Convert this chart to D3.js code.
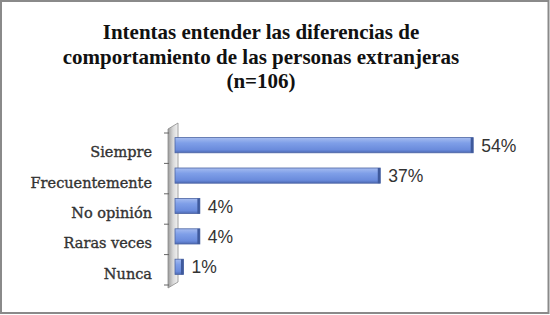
<!DOCTYPE html>
<html>
<head>
<meta charset="utf-8">
<script src="https://cdn.jsdelivr.net/npm/d3@7"></script>
<style>
  html, body { margin: 0; padding: 0; background: #fff; }
  svg { display: block; }
</style>
</head>
<body>
<div id="chart"></div>
<script>
// Data
const categories = ["Siempre", "Frecuentemente", "No opinión", "Raras veces", "Nunca"];
const values = [54, 37, 4, 4, 1];
const titleLines = [
  "Intentas entender las diferencias de",
  "comportamiento de las personas extranjeras",
  "(n=106)"
];

function draw() {
  const dimensions = { width: 550, height: 315 };

  const svg = d3
    .select("#chart")
    .append("svg")
    .attr("width", dimensions.width)
    .attr("height", dimensions.height);

  const defs = svg.append("defs");

  // bar gradient (light top, darker bottom)
  const barGrad = defs
    .append("linearGradient")
    .attr("id", "barGrad")
    .attr("x1", 0).attr("y1", 0).attr("x2", 0).attr("y2", 1);
  barGrad.append("stop").attr("offset", "0%").attr("stop-color", "#a6bcf0");
  barGrad.append("stop").attr("offset", "35%").attr("stop-color", "#7f9fe8");
  barGrad.append("stop").attr("offset", "80%").attr("stop-color", "#6a8bdc");
  barGrad.append("stop").attr("offset", "100%").attr("stop-color", "#4d6ab3");

  // wall gradient
  const wallGrad = defs
    .append("linearGradient")
    .attr("id", "wallGrad")
    .attr("x1", 0).attr("y1", 0).attr("x2", 1).attr("y2", 0);
  wallGrad.append("stop").attr("offset", "0%").attr("stop-color", "#9a9a9a");
  wallGrad.append("stop").attr("offset", "50%").attr("stop-color", "#d8d8d8");
  wallGrad.append("stop").attr("offset", "100%").attr("stop-color", "#f2f2f2");

  // outer border
  svg
    .append("rect")
    .attr("x", 1)
    .attr("y", 1)
    .attr("width", dimensions.width - 2.5)
    .attr("height", dimensions.height - 3)
    .attr("fill", "#fff")
    .attr("stroke", "#8a8a8a")
    .attr("stroke-width", 2);

  // title
  svg
    .append("g")
    .selectAll("text")
    .data(titleLines)
    .join("text")
    .attr("x", 261)
    .attr("y", (d, i) => 39 + i * 24.5)
    .attr("text-anchor", "middle")
    .style("font-family", "'Liberation Serif', 'Times New Roman', serif")
    .style("font-weight", "bold")
    .style("font-size", "21px")
    .style("fill", "#111")
    .text((d) => d);

  // scales
  const xScale = d3.scaleLinear().domain([0, 60]).range([178, 506]);
  const yScale = d3
    .scaleBand()
    .domain(categories)
    .range([133, 285])
    .paddingInner(0.5)
    .paddingOuter(0.25);

  // side wall (3D)
  svg
    .append("path")
    .attr("d", "M168,129 L178,123 L178,282 L168,288 Z")
    .attr("fill", "url(#wallGrad)")
    .attr("stroke", "#8c8c8c")
    .attr("stroke-width", 0.8);

  // y axis ticks on the wall edge
  const tickYs = categories.map((c) => yScale(c) - (yScale.step() * yScale.paddingInner()) / 2);
  tickYs.push(285);
  svg
    .append("g")
    .selectAll("line")
    .data(tickYs)
    .join("line")
    .attr("x1", 164)
    .attr("x2", 169)
    .attr("y1", (d) => d)
    .attr("y2", (d) => d)
    .attr("stroke", "#666")
    .attr("stroke-width", 1);

  // category labels
  svg
    .append("g")
    .selectAll("text")
    .data(categories)
    .join("text")
    .attr("x", 152)
    .attr("y", (d) => yScale(d) + yScale.bandwidth() / 2 + 9)
    .attr("text-anchor", "end")
    .style("font-family", "'DejaVu Serif', serif")
    .style("font-size", "14.5px")
    .style("fill", "#333")
    .style("stroke", "#333")
    .style("stroke-width", 0.35)
    .text((d) => d);

  const bars = svg
    .append("g")
    .selectAll("g")
    .data(values)
    .join("g");

  const barH = yScale.bandwidth();

  // bar front
  bars
    .append("rect")
    .attr("x", xScale(0) - 3)
    .attr("y", (d, i) => yScale(categories[i]) - 3)
    .attr("width", (d) => xScale(d) - xScale(0) + 3)
    .attr("height", barH)
    .attr("fill", "url(#barGrad)")
    .attr("stroke", "#4d65a3")
    .attr("stroke-width", 0.8);

  // bar end cap
  bars
    .append("rect")
    .attr("x", (d) => xScale(d) - 2.5)
    .attr("y", (d, i) => yScale(categories[i]) - 3)
    .attr("width", 2.5)
    .attr("height", barH)
    .attr("fill", "#3f5a9c");

  // value labels
  bars
    .append("text")
    .attr("x", (d) => xScale(d) + 8)
    .attr("y", (d, i) => yScale(categories[i]) - 3 + barH / 2 + 6.5)
    .style("font-family", "'Liberation Sans', Arial, sans-serif")
    .style("font-size", "17.5px")
    .style("fill", "#333")
    .text((d) => d + "%");
}

draw();
</script>
</body>
</html>
